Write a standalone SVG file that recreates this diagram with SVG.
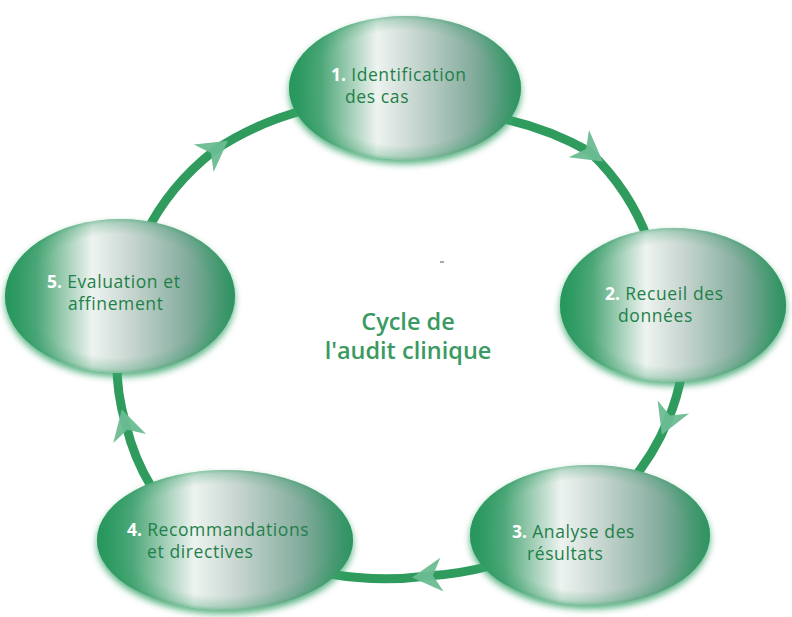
<svg xmlns="http://www.w3.org/2000/svg" width="792" height="617" viewBox="0 0 792 617">
<defs>
  <linearGradient id="body" x1="0" y1="0" x2="1" y2="0">
    <stop offset="0" stop-color="#1f9458"/>
    <stop offset="0.14" stop-color="#4ea879"/>
    <stop offset="0.38" stop-color="#eef3f0"/>
    <stop offset="0.55" stop-color="#c6d5cf"/>
    <stop offset="0.8" stop-color="#82ab9c"/>
    <stop offset="1" stop-color="#2e8f60"/>
  </linearGradient>
  <radialGradient id="rim" cx="0.5" cy="0.5" r="0.5">
    <stop offset="0.8" stop-color="#2e9a62" stop-opacity="0"/>
    <stop offset="0.95" stop-color="#2e9a62" stop-opacity="0.25"/>
    <stop offset="1" stop-color="#2e9a62" stop-opacity="0.5"/>
  </radialGradient>
  <filter id="glow" x="-20%" y="-20%" width="140%" height="140%">
    <feGaussianBlur stdDeviation="3.5"/>
  </filter>
  <marker id="arr" markerUnits="userSpaceOnUse" viewBox="-18 -20 38 40" markerWidth="38" markerHeight="40" refX="0" refY="0" orient="auto">
    <path d="M16,0 L-14,-17 L-5,0 L-14,17 Z" fill="#6cbd92" fill-opacity="0.95"/>
  </marker>
</defs>
<style>
  .conn { fill: none; stroke: #2f9c5e; stroke-width: 9; stroke-linecap: round; marker-mid: url(#arr); }
  .glow { fill: #3aa56c; opacity: 0.85; filter: url(#glow); }
  .body { fill: url(#body); }
  .rim { fill: url(#rim); }
  .lbl { font-family: "Open Sans", "DejaVu Sans", sans-serif; font-size: 17.5px; font-weight: 500; letter-spacing: 0.6px; fill: #1f8049; }
  .num { fill: #ffffff; font-weight: 700; letter-spacing: 0; }
  .title { font-family: "Open Sans", "DejaVu Sans", sans-serif; font-size: 23.5px; font-weight: 600; fill: #3a9a62; text-anchor: middle; }
</style>
<rect width="792" height="617" fill="#ffffff"/>
<g id="connectors">
  <path class="conn" d="M500,118 A282,240 0 0 1 590,152 A282,240 0 0 1 648,240"/>
  <path class="conn" d="M682,372 A282,240 0 0 1 668,420 A282,240 0 0 1 628,485"/>
  <path class="conn" d="M490,566 A282,240 0 0 1 428,576 A282,240 0 0 1 330,574"/>
  <path class="conn" d="M152,488 A282,240 0 0 1 126,425 A282,240 0 0 1 117,360"/>
  <path class="conn" d="M145,235 A282,240 0 0 1 215,150 A282,240 0 0 1 305,110"/>
</g>
<g id="node1">
  <ellipse class="glow" cx="405" cy="92" rx="116" ry="72"/>
  <ellipse class="body" cx="405" cy="88" rx="116" ry="72"/>
  <ellipse class="rim" cx="405" cy="88" rx="116" ry="72"/>
  <text class="lbl" x="331" y="81"><tspan class="num">1.</tspan> Identification</text>
  <text class="lbl" x="345" y="103">des cas</text>
</g>
<g id="node2">
  <ellipse class="glow" cx="673" cy="309" rx="113" ry="77"/>
  <ellipse class="body" cx="673" cy="305" rx="113" ry="77"/>
  <ellipse class="rim" cx="673" cy="305" rx="113" ry="77"/>
  <text class="lbl" x="605" y="300"><tspan class="num">2.</tspan> Recueil des</text>
  <text class="lbl" x="618" y="322">données</text>
</g>
<g id="node3">
  <ellipse class="glow" cx="590" cy="539" rx="120" ry="70"/>
  <ellipse class="body" cx="590" cy="535" rx="120" ry="70"/>
  <ellipse class="rim" cx="590" cy="535" rx="120" ry="70"/>
  <text class="lbl" x="512" y="538"><tspan class="num">3.</tspan> Analyse des</text>
  <text class="lbl" x="527" y="560">résultats</text>
</g>
<g id="node4">
  <ellipse class="glow" cx="225" cy="544" rx="128" ry="70"/>
  <ellipse class="body" cx="225" cy="540" rx="128" ry="70"/>
  <ellipse class="rim" cx="225" cy="540" rx="128" ry="70"/>
  <text class="lbl" x="127" y="536"><tspan class="num">4.</tspan> Recommandations</text>
  <text class="lbl" x="147" y="558">et directives</text>
</g>
<g id="node5">
  <ellipse class="glow" cx="120" cy="300" rx="115" ry="77"/>
  <ellipse class="body" cx="120" cy="296" rx="115" ry="77"/>
  <ellipse class="rim" cx="120" cy="296" rx="115" ry="77"/>
  <text class="lbl" x="47" y="288"><tspan class="num">5.</tspan> Evaluation et</text>
  <text class="lbl" x="68" y="310">affinement</text>
</g>
<g id="center">
  <text class="title" x="408" y="330">Cycle de</text>
  <text class="title" x="408" y="359">l'audit clinique</text>
  <line x1="440" y1="262" x2="444" y2="262" stroke="#555" stroke-width="1"/>
</g>
</svg>
